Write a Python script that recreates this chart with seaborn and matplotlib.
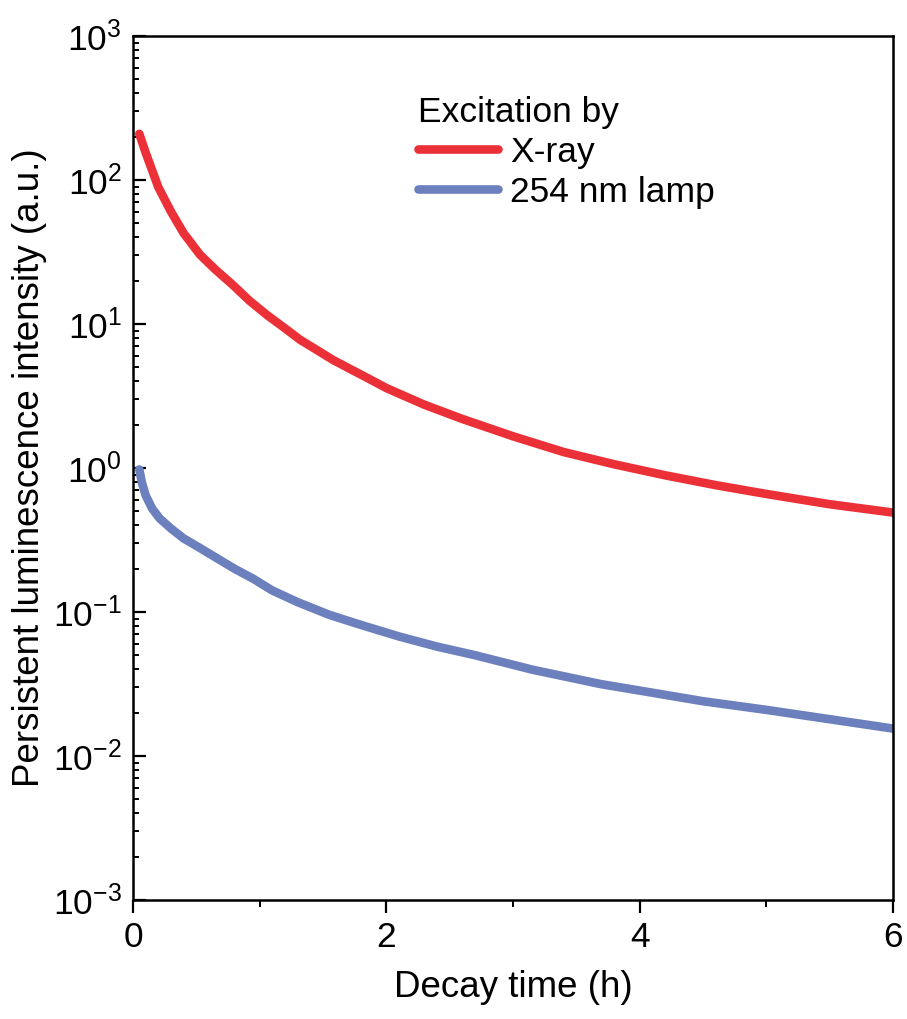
import numpy as np
import pandas as pd
import matplotlib
matplotlib.use("Agg")
import matplotlib.pyplot as plt
import seaborn as sns
from matplotlib.ticker import LogLocator, MultipleLocator
from matplotlib.lines import Line2D

# ---- data ----
xray_time = [0.05, 0.1, 0.15, 0.2, 0.3, 0.4, 0.53, 0.65, 0.79, 0.92, 1.06, 1.2, 1.32, 1.45, 1.58, 1.72, 1.85,
             2.0, 2.3, 2.6, 3.0, 3.4, 3.8, 4.2, 4.6, 5.0, 5.5, 6.0]
xray_int = [209, 155, 117.5, 89.1, 60.3, 42.7, 30.2, 23.9, 18.6, 14.5, 11.5, 9.33, 7.76, 6.61, 5.62, 4.84, 4.22,
            3.59, 2.75, 2.19, 1.66, 1.29, 1.06, 0.89, 0.76, 0.66, 0.56, 0.49]

lamp_time = [0.05, 0.07, 0.10, 0.15, 0.21, 0.3, 0.4, 0.5, 0.66, 0.8, 0.95, 1.1, 1.3, 1.55, 1.8, 2.1, 2.4, 2.7,
             3.15, 3.69, 4.1, 4.5, 5.0, 5.5, 6.0]
lamp_int = [0.977, 0.794, 0.646, 0.525, 0.447, 0.380, 0.324, 0.288, 0.237, 0.200, 0.170, 0.141, 0.117, 0.0955,
            0.0813, 0.0676, 0.0575, 0.0501, 0.0398, 0.0316, 0.0275, 0.0240, 0.0209, 0.0180, 0.0155]

series_names = ["X-ray", "254 nm lamp"]
series_colors = ["#EC3038", "#6B80BD"]

df = pd.concat([
    pd.DataFrame({"t": xray_time, "I": xray_int, "src": series_names[0]}),
    pd.DataFrame({"t": lamp_time, "I": lamp_int, "src": series_names[1]}),
], ignore_index=True)

sns.set_style("white")
plt.rcParams["font.family"] = ["Liberation Sans", "DejaVu Sans"]
plt.rcParams["mathtext.fontset"] = "custom"
plt.rcParams["mathtext.rm"] = "Liberation Sans"
plt.rcParams["mathtext.it"] = "Liberation Sans"
plt.rcParams["mathtext.default"] = "regular"
for k in ["text.color", "axes.labelcolor", "xtick.color", "ytick.color", "axes.edgecolor"]:
    plt.rcParams[k] = "black"

fig = plt.figure(figsize=(9.07, 10.19), dpi=100)
ax = fig.add_axes([0.1466, 0.1168, 0.8380, 0.8479])

sns.lineplot(data=df, x="t", y="I", hue="src", palette=dict(zip(series_names, series_colors)),
             linewidth=6.2, ax=ax, legend=False, sort=False, estimator=None)

ax.set_yscale("log")
ax.set_xlim(0, 6)
ax.set_ylim(1e-3, 1e3)
ax.xaxis.set_major_locator(MultipleLocator(2))
ax.xaxis.set_minor_locator(MultipleLocator(1))
ax.yaxis.set_major_locator(LogLocator(base=10, numticks=20))
ax.yaxis.set_minor_locator(LogLocator(base=10, subs=np.arange(2, 10), numticks=20))

for s in ax.spines.values():
    s.set_visible(True)
    s.set_linewidth(1.8)
    s.set_color("black")

ax.tick_params(axis="y", which="major", direction="in", length=9, width=1.6, labelsize=25.5, pad=8, left=True)
ax.tick_params(axis="y", which="minor", direction="in", length=4.5, width=1.4, left=True)
ax.tick_params(axis="x", which="major", direction="out", length=9, width=1.6, labelsize=25.5, pad=6, bottom=True)
ax.tick_params(axis="x", which="minor", direction="out", length=5, width=1.4, bottom=True)

ax.set_xlabel("Decay time (h)", fontsize=26.5, labelpad=12)
ax.set_ylabel("Persistent luminescence intensity (a.u.)", fontsize=26.5, labelpad=4)

handles = [Line2D([], [], color=c, linewidth=6.2) for c in series_colors]
leg = ax.legend(handles, series_names, title="Excitation by", fontsize=25.5, title_fontsize=25.5,
                frameon=False, loc="upper left", bbox_to_anchor=(0.37, 0.935),
                handlelength=2.26, handletextpad=0.34, labelspacing=0.2, alignment="left",
                borderaxespad=0, borderpad=0.1)

fig.savefig("out.png", dpi=100, facecolor="white")
